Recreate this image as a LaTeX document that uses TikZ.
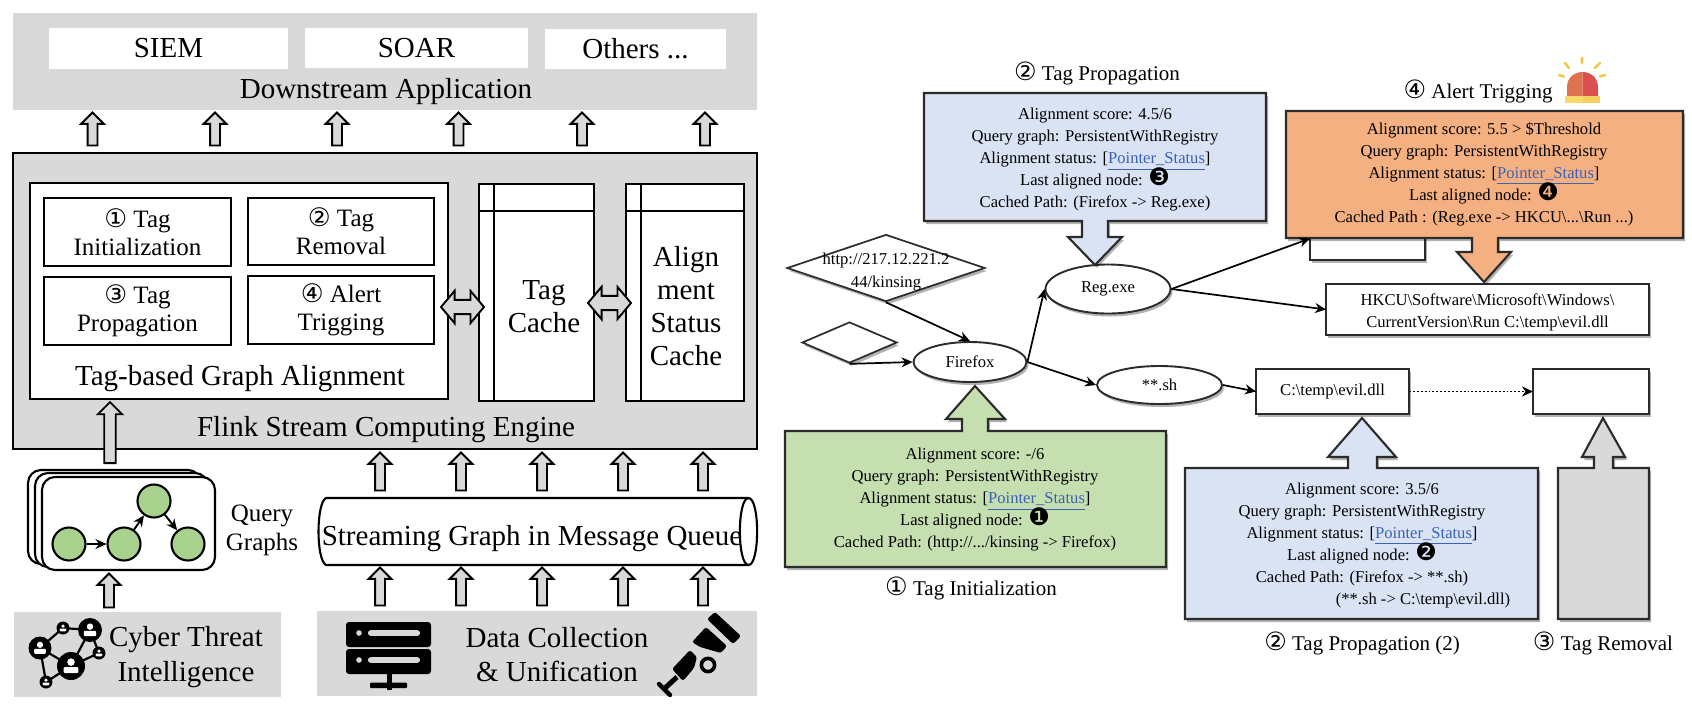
\documentclass[tikz,border=0pt]{standalone}
\usepackage{fontspec}
\setmainfont{Liberation Serif}
\newfontfamily\symfam[Scale=1.02]{DejaVu Sans}
\newfontfamily\symcam[Scale=1.2]{DejaVu Sans}
\newfontfamily\symnam[Scale=1.45]{DejaVu Sans}
\newcommand{\symf}[1]{\smash{{\symfam #1}}}
\newcommand{\symc}[1]{\smash{{\symcam #1}}}
\newcommand{\symn}[1]{\smash{{\symnam #1}}}
\usetikzlibrary{shapes.geometric,shapes.arrows,shadows,arrows.meta}
\definecolor{panel}{HTML}{D9D9D9}
\definecolor{bluefill}{HTML}{D9E3F3}
\definecolor{greenfill}{HTML}{C5DFB0}
\definecolor{orangefill}{HTML}{F4B080}
\definecolor{circlegreen}{HTML}{A9D18E}
\definecolor{linkblue}{HTML}{3B62B4}
\definecolor{outl}{HTML}{2B2B2B}
\definecolor{domeL}{HTML}{DE7350}
\definecolor{domeR}{HTML}{D9504F}
\definecolor{baseL}{HTML}{F8D96B}
\definecolor{baseR}{HTML}{F5CF5F}
\definecolor{rayc}{HTML}{F2C94C}
\tikzset{
  x=0.5pt,y=-0.5pt,
  boxbase/.style={inner sep=0pt,outer sep=0pt,align=center},
  graypanel/.style={fill=panel},
  whitepanel/.style={fill=white},
  thickbox/.style={draw=black,line width=1.25pt},
  lefttxt/.style={font=\fontsize{14.5}{16.5}\selectfont,align=center,inner sep=0pt},
  innertxt/.style={font=\fontsize{12.5}{14}\selectfont},
  infotxt/.style={font=\fontsize{8.3}{11}\selectfont,align=center,inner sep=0pt},
  captxt/.style={font=\fontsize{10.5}{12}\selectfont,inner sep=0pt},
  softshadow/.style={drop shadow={shadow xshift=1pt,shadow yshift=-1.5pt,fill=black,opacity=0.3}},
  rightbox/.style={draw=outl,line width=0.95pt,fill=white,softshadow},
  callout/.style={draw=outl,line width=1.05pt,softshadow,line join=miter},
  flow/.style={draw=black,line width=0.85pt,-{Stealth[length=5.5pt,width=5pt]}},
  hollow/.style={single arrow,draw=black,line width=0.95pt,fill=panel,shape border rotate=90,
     inner sep=2pt,single arrow head extend=3.2pt,outer sep=0pt},
  hollowbig/.style={hollow,inner sep=2.4pt,single arrow head extend=3.2pt},
  bothways/.style={double arrow,draw=black,line width=0.95pt,fill=panel,inner sep=3.1pt,
     double arrow head extend=4.5pt,double arrow tip angle=100,outer sep=0pt},
  qcircle/.style={circle,draw=black,line width=1.05pt,fill=circlegreen,inner sep=0pt,minimum size=16.5pt},
  qflow/.style={draw=black,line width=0.95pt,-{Stealth[length=5.5pt,width=5pt]}},
}
\newcommand{\pxbox}[7]{\node[boxbase,#1,minimum width={(#5-#3)*0.5pt},minimum height={(#6-#4)*0.5pt}] (#2) at ({(#3+#5)/2},{(#4+#6)/2}) {#7};}
% name, x, tip y, bottom y
\newcommand{\uparrownode}[4]{\node[hollow,minimum height={(#4-#3)*0.5pt}] (#1) at (#2,{(#3+#4)/2}) {};}
\newcommand{\lnk}{[\textcolor{linkblue}{\underline{Pointer\_Status}}]}
\newcommand{\bsl}{\textbackslash{}}
\newcommand{\lift}{\rule{0pt}{9.3pt}}
% x, y, radius
\newcommand{\person}[3]{%
  \fill[black] (#1,#2) circle ({#3*0.5pt});
  \fill[white] (#1,{#2-0.28*#3}) circle ({0.27*#3*0.5pt});
  \fill[white,rounded corners=0.5pt] ({#1-0.52*#3},{#2+0.5*#3}) rectangle ({#1+0.52*#3},{#2+0.08*#3});
}
\begin{document}
\begin{tikzpicture}
\useasboundingbox (0,0) rectangle (1692,709);
\fill[white] (0,0) rectangle (1692,709);

% ===== left: downstream
\pxbox{graypanel}{down}{13}{13}{757}{110}{}
\pxbox{whitepanel,font=\fontsize{14.5}{16.5}\selectfont}{siem}{49}{28}{288}{69}{SIEM}
\pxbox{whitepanel,font=\fontsize{14.5}{16.5}\selectfont}{soar}{305}{28}{528}{68}{SOAR}
\pxbox{whitepanel,font=\fontsize{14.5}{16.5}\selectfont}{others}{545}{29}{726}{69}{Others ...}
\node[lefttxt] (downt) at (386,92) {Downstream Application};

% ===== Flink engine
\pxbox{graypanel,thickbox}{flink}{13}{153}{757}{449}{}
\pxbox{whitepanel,thickbox}{tagg}{30}{183}{448}{399}{}
\pxbox{whitepanel,thickbox,innertxt}{t1}{44}{198}{231}{266}{\lift\symf{①} Tag\\Initialization}
\pxbox{whitepanel,thickbox,innertxt}{t2}{248}{198}{434}{265}{\lift\symf{②} Tag\\Removal}
\pxbox{whitepanel,thickbox,innertxt}{t3}{44}{277}{231}{345}{\lift\symf{③} Tag\\Propagation}
\pxbox{whitepanel,thickbox,innertxt}{t4}{248}{276}{434}{344}{\lift\symf{④} Alert\\Trigging}
\node[lefttxt] (taggt) at (240,379) {Tag-based Graph Alignment};
\node[lefttxt] (flinkt) at (386,430) {Flink Stream Computing Engine};

\pxbox{whitepanel,draw=black,line width=1.05pt}{tagc}{479}{184}{594}{401}{}
\draw[line width=0.95pt] (494,184) -- (494,401) (479,211) -- (594,211);
\node[lefttxt] (tagct) at (544,307) {Tag\\Cache};
\pxbox{whitepanel,draw=black,line width=1.05pt}{stc}{626}{184}{744}{401}{}
\draw[line width=0.95pt] (641,184) -- (641,401) (626,211) -- (744,211);
\node[lefttxt] (stct) at (686,306.5) {Align\\ment\\Status\\Cache};
\node[bothways,minimum height=21.5pt] (dbl1) at (462.5,307) {};
\node[bothways,minimum height=21.5pt] (dbl2) at (609.5,303) {};

% ===== up arrows
\uparrownode{ua1}{92.5}{115}{148}
\uparrownode{ua2}{215}{115}{148}
\uparrownode{ua3}{337}{115}{148}
\uparrownode{ua4}{458.5}{115}{148}
\uparrownode{ua5}{582}{115}{148}
\uparrownode{ua6}{705}{115}{148}
\foreach \i/\xx in {1/380,2/461,3/542,4/623,5/703}{
  \uparrownode{ub\i}{\xx}{455}{493}
  \uparrownode{uc\i}{\xx}{570}{608}
}
\uparrownode{uq}{109}{576}{610}
\node[hollowbig,minimum height=30.5pt] (uflink) at (110,435.5) {};

% ===== query graphs
\draw[line width=1.05pt,fill=white,rounded corners=6.5pt] (28,470) rectangle (201,564);
\draw[line width=1.05pt,fill=white,rounded corners=6.5pt] (35,473) rectangle (208,567);
\draw[line width=1.05pt,fill=white,rounded corners=6.5pt] (42,477) rectangle (215,570);
\node[qcircle] (c1) at (69,544) {};
\node[qcircle] (c2) at (124,544) {};
\node[qcircle] (c3) at (154,501) {};
\node[qcircle] (c4) at (188,544) {};
\draw[qflow] (c1) -- (c2);
\draw[qflow] (c2) -- (c3);
\draw[qflow] (c3) -- (c4);
\node[font=\fontsize{12.5}{14.5}\selectfont,align=center,inner sep=0pt] (qt) at (262,530) {Query\\Graphs};

% ===== message queue
\draw[line width=1.05pt,fill=white] (326,498) -- (748.5,498)
   .. controls (760,498) and (760,565) .. (748.5,565) -- (326,565)
   .. controls (316,560) and (316,503) .. (326,498) -- cycle;
\draw[line width=1.05pt] (748.5,498) .. controls (737,498) and (737,565) .. (748.5,565);
\node[lefttxt] (mqt) at (532,538.5) {Streaming Graph in Message Queue};

% ===== bottom panels
\pxbox{graypanel}{cti}{14}{612}{281}{697}{}
\pxbox{graypanel}{dcu}{317}{611}{757}{696}{}
\node[lefttxt] (ctit) at (186,657) {Cyber Threat\\[1pt]Intelligence};
\node[lefttxt] (dcut) at (557,654.5) {Data Collection\\[0.5pt]\& Unification};

% CTI icon
\draw[line width=1.1pt] (40,648)--(63,628)--(90,630)--(99,653)--(71,666)--(46,682)--(40,648)--(71,666)--(90,630);
\person{40}{648}{11.5}
\person{63}{628}{6.5}
\person{90}{630}{12}
\person{99}{653}{6.5}
\person{71}{666}{14}
\person{46}{682}{6.5}

% server icon
\fill[black,rounded corners=1.5pt] (346,622) rectangle (431,647);
\fill[black,rounded corners=1.5pt] (346,649) rectangle (431,674);
\foreach \yy in {633,660}{
  \fill[panel] (359,\yy) circle (1.4pt);
  \fill[panel,rounded corners=1.3pt] (368,{\yy-2.8}) rectangle (420,{\yy+2.8});
}
\fill[black] (387,674) rectangle (391.5,690);
\fill[black,rounded corners=0.5pt] (370,682.5) rectangle (407,688);

% telescope icon
\fill[black,rounded corners=1.2pt] (715,612)--(741,636)--(733,644)--(707,619)--cycle;
\fill[black,rounded corners=1.2pt] (692,642)--(706,627)--(727,646)--(721,653)--(700,647)--cycle;
\fill[black,rounded corners=1.2pt] (672,669)--(690,650)--(697,657)--(694,668)--(683,681)--cycle;
\draw[black,line width=1.8pt] (708,665) circle (3.3pt);
\draw[black,line width=2.5pt] (664,689) -- (677,677);
\draw[black,line width=2.2pt,line cap=round] (659,684) -- (670,695);

% ===== right: graph
\node[diamond,draw=outl,line width=0.85pt,fill=white,softshadow,inner sep=0pt,aspect=1,
      minimum width=99pt,minimum height=33.5pt] (d1) at (886,268) {};
\node[infotxt,font=\fontsize{8.3}{11.5}\selectfont] (d1t) at (886,272) {http://217.12.221.2\\44/kinsing};
\node[diamond,draw=outl,line width=0.85pt,fill=white,softshadow,inner sep=0pt,aspect=1,
      minimum width=47.5pt,minimum height=20.5pt] (d2) at (849.5,342.5) {};
\node[ellipse,rightbox,inner sep=0pt,minimum width=56.5pt,minimum height=20pt,font=\fontsize{8.3}{11}\selectfont] (ff) at (970,362) {Firefox};
\node[ellipse,rightbox,inner sep=0pt,minimum width=62.5pt,minimum height=24.5pt,font=\fontsize{8.3}{11}\selectfont] (reg) at (1108,289) {Reg.exe};
\node[ellipse,rightbox,inner sep=0pt,minimum width=62.5pt,minimum height=19pt,font=\fontsize{8.3}{11}\selectfont] (sh) at (1159.5,385) {**.sh};

\pxbox{rightbox,infotxt}{hk}{1326}{284}{1649}{335}{\rule{0pt}{8.8pt}HKCU\bsl{}Software\bsl{}Microsoft\bsl{}Windows\bsl\\CurrentVersion\bsl{}Run C:\bsl{}temp\bsl{}evil.dll}
\pxbox{rightbox,infotxt}{evil}{1256}{369}{1409}{414}{C:\bsl{}temp\bsl{}evil.dll}
\pxbox{rightbox}{empty}{1533}{369}{1649}{414}{}
\pxbox{rightbox}{hidden}{1310}{217}{1425}{260}{}

\draw[flow] (d1.south) -- (ff.north);
\draw[flow] (d2.south) -- (ff.west);
\draw[flow] (ff.east) -- (reg.west);
\draw[flow] (ff.east) -- (sh.west);
\draw[flow] (reg.east) -- (hk.west);
\draw[flow] (sh.east) -- (evil.west);
\draw[flow,line width=0.95pt,densely dotted] (evil.east) -- (empty.west);

% callouts
\draw[callout,fill=bluefill] (924,93)--(1266,93)--(1266,221)--(1108,221)--(1108,237)--(1122,237)--(1095,265)--(1068,237)--(1082,237)--(1082,221)--(924,221)--cycle;
\node[infotxt] (b1t) at (1095,160) {Alignment score: 4.5/6\\Query graph: PersistentWithRegistry\\Alignment status: \lnk\\Last aligned node: \symn{❸}\\Cached Path: (Firefox -> Reg.exe)};

\draw[callout,fill=orangefill] (1286,111)--(1683,111)--(1683,238)--(1498,238)--(1498,252)--(1511,252)--(1484,282)--(1457,252)--(1472,252)--(1472,238)--(1286,238)--cycle;
\node[infotxt] (o1t) at (1484,174.5) {Alignment score: 5.5 > \$Threshold\\Query graph: PersistentWithRegistry\\Alignment status: \lnk\\Last aligned node: \symn{❹}\\Cached Path : (Reg.exe -> HKCU\bsl{}...\bsl{}Run ...)};
\draw[flow] (reg.east) -- (hidden.west);

\draw[callout,fill=greenfill] (785,431)--(962,431)--(962,419)--(946,419)--(975,386)--(1005,419)--(988,419)--(988,431)--(1166,431)--(1166,567)--(785,567)--cycle;
\node[infotxt] (g1t) at (975,500) {Alignment score: -/6\\Query graph: PersistentWithRegistry\\Alignment status: \lnk\\Last aligned node: \symn{❶}\\Cached Path: (http://.../kinsing -> Firefox)};

\draw[callout,fill=bluefill] (1185,468)--(1348,468)--(1348,457)--(1328,457)--(1362,418)--(1396,457)--(1377,457)--(1377,468)--(1538,468)--(1538,619)--(1185,619)--cycle;
\node[infotxt] (b2t) at (1362,545) {Alignment score: 3.5/6\\Query graph: PersistentWithRegistry\\Alignment status: \lnk\\Last aligned node: \symn{❷}\\Cached Path: (Firefox -> **.sh)\\\hspace*{61pt}(**.sh -> C:\bsl{}temp\bsl{}evil.dll)};

\draw[callout,fill=panel] (1558,468)--(1594,468)--(1594,457)--(1582,457)--(1603,418)--(1625,457)--(1613,457)--(1613,468)--(1649,468)--(1649,619)--(1558,619)--cycle;

% captions
\node[captxt] (cap1) at (1097,76) {\symc{②} Tag Propagation};
\node[captxt] (cap2) at (1478,93) {\symc{④} Alert Trigging};
\node[captxt] (cap3) at (971,590) {\symc{①} Tag Initialization};
\node[captxt] (cap4) at (1362,645.5) {\symc{②} Tag Propagation (2)};
\node[captxt] (cap5) at (1603,645) {\symc{③} Tag Removal};

% alarm
\fill[domeL] (1567,96) -- (1567,87) .. controls (1567,78) and (1574,72) .. (1582.5,72) -- (1582.5,96) -- cycle;
\fill[domeR] (1598,96) -- (1598,87) .. controls (1598,78) and (1591,72) .. (1582.5,72) -- (1582.5,96) -- cycle;
\fill[baseL] (1565,96) rectangle (1582.5,103);
\fill[baseR] (1582.5,96) rectangle (1600,103);
\draw[rayc,line width=1.3pt,line cap=round] (1582,58)--(1582,63) (1565,63)--(1569,68) (1600,63)--(1595,68) (1559,75)--(1564,76.5) (1600,76.5)--(1605,75);
\end{tikzpicture}
\end{document}
